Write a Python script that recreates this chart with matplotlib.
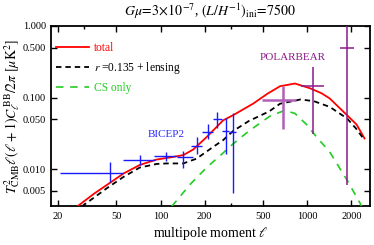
import numpy as np
import matplotlib
matplotlib.use("Agg")
import matplotlib.pyplot as plt
from matplotlib.ticker import FixedLocator, FixedFormatter, NullFormatter

plt.rcParams['font.family'] = ['Liberation Serif', 'DejaVu Serif']
plt.rcParams['mathtext.fontset'] = 'stix'

# ---- data ----
ell_total = [27, 35, 43, 56, 72, 94, 122, 143, 167, 206, 267, 312, 427, 535, 653, 825, 1043, 1250, 1425, 1870, 2170, 2460]
cl_total = [0.003, 0.0045, 0.006, 0.0087, 0.0114, 0.0136, 0.0148, 0.0157, 0.0188, 0.028, 0.048, 0.0566, 0.082, 0.113, 0.144, 0.157, 0.135, 0.115, 0.097, 0.0566, 0.042, 0.0268]

ell_r = [29, 43, 56, 72, 94, 110, 143, 176, 229, 267, 312, 400, 550, 653, 900, 1110, 1425, 1870, 2150, 2460]
cl_r = [0.003, 0.0054, 0.0078, 0.0105, 0.0118, 0.012, 0.012, 0.014, 0.0205, 0.0254, 0.034, 0.047, 0.064, 0.082, 0.094, 0.089, 0.074, 0.051, 0.037, 0.0254]

ell_cs = [119, 160, 206, 260, 312, 400, 557, 700, 825, 990, 1160, 1420, 1870, 2300, 2350]
cl_cs = [0.003, 0.0062, 0.0105, 0.016, 0.0225, 0.034, 0.055, 0.066, 0.060, 0.042, 0.028, 0.0175, 0.007, 0.0033, 0.003]

bicep_ell = [45, 72, 109, 143, 176, 209, 243, 279, 310]
bicep_val = [0.0087, 0.0134, 0.0152, 0.0146, 0.0209, 0.0331, 0.0498, 0.0339, 0.0331]
bicep_lo = [0.00665, 0.0114, 0.0131, 0.0102, 0.0162, 0.0262, 0.038, 0.0162, 0.0047]
bicep_hi = [0.0126, 0.0157, 0.0174, 0.018, 0.0282, 0.0433, 0.062, 0.051, 0.060]
bicep_lmin = [20.6, 55, 90, 129, 160, 193, 229, 263, 295]
bicep_lmax = [55, 91, 128, 166, 193, 229, 263, 295, 327]

polar_ell = [687, 1090, 1880]
polar_val = [0.0936, 0.147, 0.496]
polar_lo = [0.036, 0.031, 0.0059]
polar_hi = [0.147, 0.266, 2.0]
polar_lmin = [493, 900, 1680]
polar_lmax = [843, 1310, 2090]

xticks = [20, 50, 100, 200, 500, 1000, 2000]
xtick_labels = ['20', '50', '100', '200', '500', '1000', '2000']
yticks = [0.005, 0.01, 0.05, 0.1, 0.5, 1.0]
ytick_labels = ['0.005', '0.010', '0.050', '0.100', '0.500', '1.000']

# ---- figure ----
fig = plt.figure(figsize=(3.74, 2.45), dpi=100)
ax = fig.add_axes([0.1364, 0.1592, 0.8529, 0.7347])

ax.plot(ell_total, cl_total, color='red', lw=1.3, label='total', zorder=3)
ax.plot(ell_r, cl_r, color='black', lw=1.3, dashes=(3, 2.2), label=r'$r$ =0.135 + lensing', zorder=3)
ax.plot(ell_cs, cl_cs, color='#22cc22', lw=1.2, dashes=(4.5, 4), label='CS only', zorder=3)

bv = np.array(bicep_val)
bl = np.array(bicep_ell)
ax.errorbar(bl, bv,
            yerr=[bv - np.array(bicep_lo), np.array(bicep_hi) - bv],
            xerr=[bl - np.array(bicep_lmin), np.array(bicep_lmax) - bl],
            fmt='none', ecolor='#1a1aff', elinewidth=1.0, capsize=0, zorder=4)

pv = np.array(polar_val)
pl = np.array(polar_ell)
cols = ['#b060b8', '#8b1a8b', '#8b1a8b']
lws = [1.8, 1.1, 1.1]
for i in range(3):
    ax.errorbar([pl[i]], [pv[i]],
                yerr=[[pv[i] - polar_lo[i]], [polar_hi[i] - pv[i]]],
                xerr=[[pl[i] - polar_lmin[i]], [polar_lmax[i] - pl[i]]],
                fmt='none', ecolor=cols[i], elinewidth=lws[i], capsize=0, zorder=4)

ax.set_xscale('log')
ax.set_yscale('log')
ax.set_xlim(17.9, 2680)
ax.set_ylim(0.00305, 1.0)

ax.xaxis.set_major_locator(FixedLocator(xticks))
ax.xaxis.set_major_formatter(FixedFormatter(xtick_labels))
ax.xaxis.set_minor_locator(FixedLocator([30, 300, 3000]))
ax.xaxis.set_minor_formatter(NullFormatter())
ax.yaxis.set_major_locator(FixedLocator(yticks))
ax.yaxis.set_major_formatter(FixedFormatter(ytick_labels))
ax.yaxis.set_minor_locator(FixedLocator([]))
ax.tick_params(which='both', direction='in', top=True, right=True, labelsize=7.5, width=1.0)
ax.tick_params(which='major', length=4)
ax.tick_params(which='minor', length=2)
ax.tick_params(axis='x', pad=4)
for s in ax.spines.values():
    s.set_linewidth(1.3)

ax.text(110, 0.0305, 'BICEP2', color='#2a2aff', fontsize=8, ha='center', va='center')
ax.text(800, 0.36, 'POLARBEAR', color='#8b1a8b', fontsize=8, ha='center', va='center')

leg = ax.legend(loc='upper left', frameon=False, fontsize=8.3, handlelength=2.9,
                handletextpad=0.4, borderaxespad=0.0, labelspacing=0.5,
                bbox_to_anchor=(0.0, 0.935))
for t, c in zip(leg.get_texts(), ['red', 'black', '#22cc22']):
    t.set_color(c)

ax.set_title(r'$G\mu\!=\!3\!\times\!10^{-7}$, $(L/H^{-1})_{\rm ini}\!=\!7500$', fontsize=10, pad=7)
ax.set_xlabel(r'multipole moment $\ell$', fontsize=10, labelpad=3)
ax.set_ylabel(r'$T^2_{\rm CMB}\ell(\ell+1)C_\ell^{\,\rm BB}/2\pi\ [\mu{\rm K}^2]$', fontsize=10, labelpad=1)

fig.savefig('out.png', dpi=100)
